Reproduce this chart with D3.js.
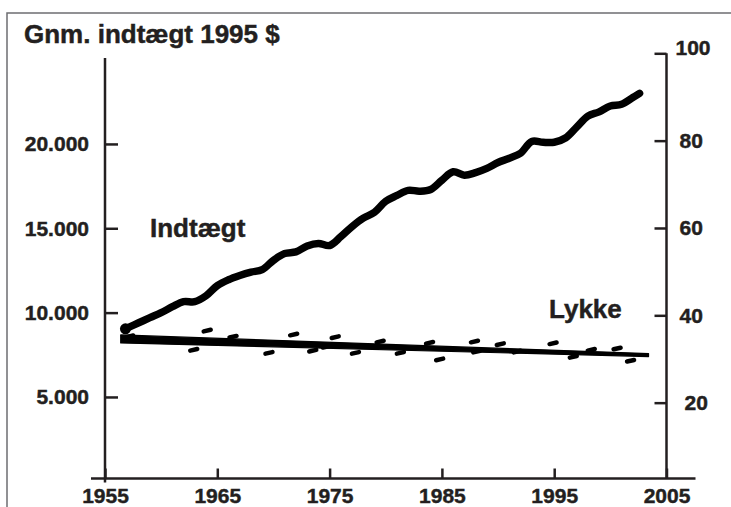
<!DOCTYPE html>
<html>
<head>
<meta charset="utf-8">
<script src="https://cdn.jsdelivr.net/npm/d3@7"></script>
<style>
  html, body { margin: 0; padding: 0; background: #fff; }
  svg { display: block; }
  text { font-family: "Liberation Sans", Arial, Helvetica, sans-serif; font-weight: bold; fill: #231f20; stroke: #231f20; stroke-width: 0.45px; }
</style>
</head>
<body>
<svg id="chart" width="731" height="507"></svg>
<script>
// ---- data ----
const incomeYears = [1957,1958,1959,1960,1961,1962,1963,1964,1965,1966,1967,1968,1969,1970,1971,1972,1973,1974,1975,1976,1977,1978,1979,1980,1981,1982,1983,1984,1985,1986,1987,1988,1989,1990,1991,1992,1993,1994,1995,1996,1997,1998,1999,2000,2001,2002,2002.6];
const incomeValues = [9100,9400,9700,10000,10350,10650,10650,11000,11600,11950,12200,12400,12550,13100,13500,13600,13950,14100,13980,14500,15100,15600,15950,16600,16950,17250,17200,17300,17850,18350,18150,18300,18550,18900,19150,19450,20150,20100,20100,20350,21000,21650,21900,22250,22350,22750,23000];

const lykkeYears  = [1957.2,1962.9,1964.1,1966.4,1969.6,1971.8,1973.5,1974.7,1975.5,1977.3,1979.5,1981.3,1983.9,1984.8,1987.9,1988.1,1990.2,1991.7,1994.9,1996.7,1998.3,2000.6,2001.8];
const lykkeValues = [35.2,32.1,36.5,35.1,31.4,35.6,31.9,32.8,35.0,31.4,34.0,31.4,33.7,29.9,34.0,31.7,33.4,31.7,33.6,30.5,32.1,32.4,29.6];

const trendYears  = [1956.4, 2003.4];
const trendValues = [34.6, 30.9];

const xTickYears   = [1955,1965,1975,1985,1995,2005];
const leftTicks    = [5000,10000,15000,20000];
const rightTicks   = [20,40,60,80,100];

const titleText  = "Gnm. indtægt 1995 $";
const incomeLabel = "Indtægt";
const lykkeLabel  = "Lykke";

// ---- setup ----
const svg = d3.select("#chart");
const ink = "#231f20";

const x  = d3.scaleLinear().domain([1955, 2005]).range([105, 666.5]);
const yL = d3.scaleLinear().domain([0, 25000]).range([481.3, 59.6]);
const yR = d3.scaleLinear().domain([0, 100]).range([490, 53.3]);
const xAxisY = 478.5;

const loc = d3.formatLocale({decimal: ",", thousands: ".", grouping: [3], currency: ["", "$"]});
const fmt = loc.format(",");

// frame
svg.append("rect").attr("x", 7).attr("y", 13).attr("width", 760).attr("height", 540)
  .attr("fill", "none").attr("stroke", "#6d6e71").attr("stroke-width", 1.5);

// title
svg.append("text").attr("x", 24).attr("y", 43).attr("font-size", 26).text(titleText);

// left axis
const gL = svg.append("g").attr("transform", `translate(${x(1955)},0)`)
  .call(d3.axisLeft(yL).tickValues(leftTicks).tickFormat(fmt).tickSize(-13).tickPadding(16).tickSizeOuter(0));
gL.select(".domain").remove();
gL.selectAll(".tick line").attr("stroke", ink).attr("stroke-width", 2.5);
gL.selectAll(".tick text").attr("font-size", 21).attr("font-family", null).attr("fill", ink);
svg.append("line").attr("x1", x(1955)).attr("x2", x(1955))
  .attr("y1", yL.range()[1] - 1.5).attr("y2", xAxisY + 4)
  .attr("stroke", ink).attr("stroke-width", 2.5);

// right axis
const gR = svg.append("g").attr("transform", `translate(${x(2005)},0)`)
  .call(d3.axisRight(yR).tickValues(rightTicks).tickSize(-12).tickPadding(13).tickSizeOuter(0));
gR.select(".domain").remove();
gR.selectAll(".tick line").attr("stroke", ink).attr("stroke-width", 2.5);
gR.selectAll(".tick text").attr("font-size", 21).attr("font-family", null).attr("fill", ink)
  .attr("dy", d => d === 100 ? "0.05em" : "0.32em")
  .attr("x", d => d === 100 ? 9 : (d === 20 ? 18 : 13));
svg.append("line").attr("x1", x(2005)).attr("x2", x(2005))
  .attr("y1", yR(100)).attr("y2", xAxisY)
  .attr("stroke", ink).attr("stroke-width", 2.5);

// x axis
const gX = svg.append("g").attr("transform", `translate(0,${xAxisY})`)
  .call(d3.axisBottom(x).tickValues(xTickYears).tickFormat(d3.format("d")).tickSize(-10).tickPadding(10).tickSizeOuter(0));
gX.select(".domain").remove();
gX.selectAll(".tick line").attr("stroke", ink).attr("stroke-width", 2.5);
gX.selectAll(".tick text").attr("font-size", 21).attr("font-family", null).attr("fill", ink);
svg.append("line").attr("x1", x.range()[0] - 14).attr("x2", x.range()[1] + 29)
  .attr("y1", xAxisY).attr("y2", xAxisY)
  .attr("stroke", ink).attr("stroke-width", 2.5);

// Lykke trend (tapering thick line)
const trend = trendYears.map((yr, i) => ({year: yr, v: trendValues[i], w: i === 0 ? 8 : 3}));
svg.append("path").datum(trend)
  .attr("d", d3.area().x(d => x(d.year)).y0(d => yR(d.v) - d.w / 2).y1(d => yR(d.v) + d.w / 2))
  .attr("fill", "#000").attr("stroke", "#000").attr("stroke-width", 1.2).attr("stroke-linejoin", "round");

// Lykke points as short dashes
const lyk = lykkeYears.map((yr, i) => ({year: yr, v: lykkeValues[i]}));
svg.append("g").selectAll("line").data(lyk).join("line")
  .attr("x1", d => x(d.year) - 3.5).attr("x2", d => x(d.year) + 3.5)
  .attr("y1", d => yR(d.v) + 0.8).attr("y2", d => yR(d.v) - 0.8)
  .attr("stroke", "#000").attr("stroke-width", 4.5).attr("stroke-linecap", "round");

// Income line
const inc = incomeYears.map((yr, i) => ({year: yr, v: incomeValues[i]}));
svg.append("path").datum(inc)
  .attr("d", d3.line().x(d => x(d.year)).y(d => yL(d.v)).curve(d3.curveCatmullRom.alpha(0.5)))
  .attr("fill", "none").attr("stroke", "#000").attr("stroke-width", 7.5)
  .attr("stroke-linecap", "round").attr("stroke-linejoin", "round");
svg.append("circle").attr("cx", x(inc[0].year) - 2).attr("cy", yL(inc[0].v) + 1).attr("r", 5.5).attr("fill", "#000");

// series labels
svg.append("text").attr("x", 150).attr("y", 237).attr("font-size", 26).text(incomeLabel);
svg.append("text").attr("x", 549).attr("y", 318).attr("font-size", 26).text(lykkeLabel);
</script>
</body>
</html>
